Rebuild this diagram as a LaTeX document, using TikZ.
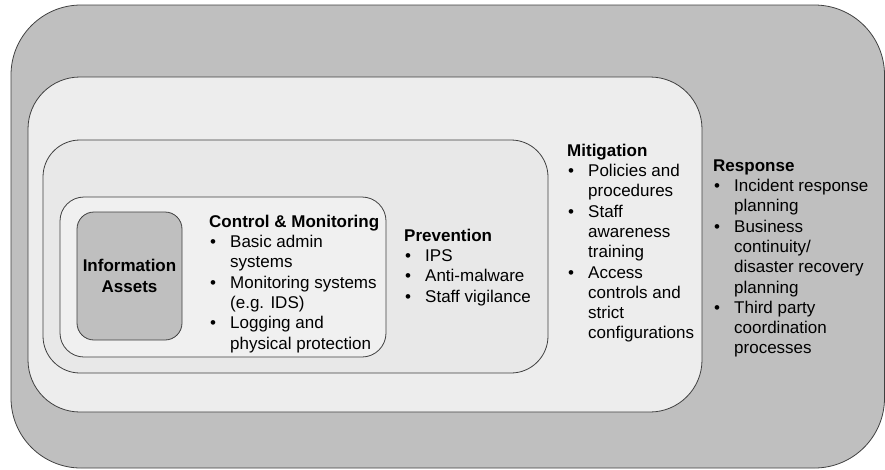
\documentclass[tikz,border=0pt]{standalone}
\usepackage{fontspec}
\setmainfont{Liberation Sans}

\newcommand{\bul}{\makebox[21pt][l]{\hspace{1pt}\textbullet}}
\newcommand{\cont}{\hspace*{21pt}}

\begin{document}
\begin{tikzpicture}[
        x=1pt,
        y=-1pt,
        layer/.style={
            rectangle,
            draw=black!75,
            line width=0.8pt,
            inner sep=0pt
        },
        blocktext/.style={
            anchor=north west,
            inner sep=0pt,
            align=left,
            font=\fontsize{17}{20.3}\selectfont
        }
    ]

        \useasboundingbox (0,0) rectangle (885,469);

        % nested layers, outermost first
        \node[layer, fill=black!25, rounded corners=70pt,
            minimum width=873.5pt, minimum height=463pt] (response) at (447.75,236.5) {};
        \node[layer, fill=black!7, rounded corners=52pt,
            minimum width=674pt, minimum height=335pt] (mitigation) at (365,244.5) {};
        \node[layer, fill=black!9, rounded corners=37pt,
            minimum width=505pt, minimum height=233pt] (prevention) at (295.5,256.5) {};
        \node[layer, fill=black!6, rounded corners=24pt,
            minimum width=326pt, minimum height=160pt] (control) at (223,277) {};
        \node[layer, fill=black!25, rounded corners=17pt,
            minimum width=105pt, minimum height=128pt, align=center,
            font=\fontsize{17}{20.3}\selectfont\bfseries] (assets) at (129.5,276)
            {Information\\Assets};

        % texts of the layers
        \node[blocktext] (controltext) at (209,212.8)
            {\strut\textbf{Control \& Monitoring}\\
             \bul Basic admin\\
             \cont systems\\
             \bul Monitoring systems\\
             \cont (e.g. IDS)\\
             \bul Logging and\\
             \cont physical protection};

        \node[blocktext] (preventiontext) at (404,226.8)
            {\strut\textbf{Prevention}\\
             \bul IPS\\
             \bul Anti-malware\\
             \bul Staff vigilance};

        \node[blocktext] (mitigationtext) at (567,141.8)
            {\strut\textbf{Mitigation}\\
             \bul Policies and\\
             \cont procedures\\
             \bul Staff\\
             \cont awareness\\
             \cont training\\
             \bul Access\\
             \cont controls and\\
             \cont strict\\
             \cont configurations};

        \node[blocktext] (responsetext) at (713,156.8)
            {\strut\textbf{Response}\\
             \bul Incident response\\
             \cont planning\\
             \bul Business\\
             \cont continuity/\\
             \cont disaster recovery\\
             \cont planning\\
             \bul Third party\\
             \cont coordination\\
             \cont processes};

    \end{tikzpicture}
\end{document}
